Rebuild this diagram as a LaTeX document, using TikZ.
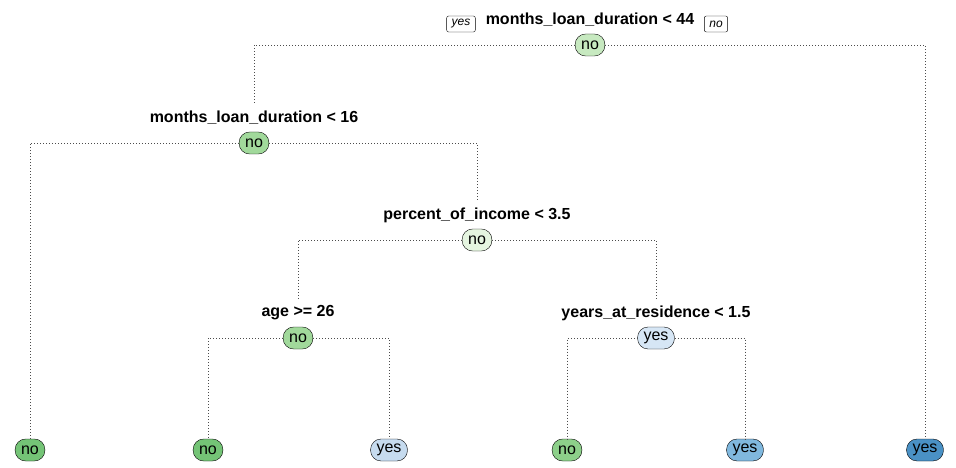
\documentclass[tikz,border=0pt]{standalone}
\usepackage{fontspec}
\setsansfont{Liberation Sans}
\usepackage{tikz}
\usetikzlibrary{positioning}

\definecolor{gA}{HTML}{C7E9C0}
\definecolor{gB}{HTML}{A1D99B}
\definecolor{gC}{HTML}{E5F5E0}
\definecolor{gD}{HTML}{74C476}
\definecolor{gE}{HTML}{8DD08A}
\definecolor{bA}{HTML}{D6E6F5}
\definecolor{bB}{HTML}{C6DBEF}
\definecolor{bC}{HTML}{80B8DE}
\definecolor{bD}{HTML}{4A91C5}

\tikzset{
  leafbox/.style={draw=black, rounded corners=10.5pt, minimum height=22pt, inner xsep=6pt, inner ysep=2pt,
    font=\sffamily\fontsize{16}{17}\selectfont},
  splitlab/.style={font=\sffamily\bfseries\fontsize{16}{18}\selectfont, inner sep=1pt},
  tagbox/.style={draw=black, rounded corners=2pt, inner xsep=5pt, inner ysep=2pt, minimum height=16pt,
    font=\sffamily\itshape\fontsize{12}{14}\selectfont},
  link/.style={color=black!70, line width=0.8pt, dash pattern=on 0.8pt off 2.2pt}
}

\begin{document}
\begin{tikzpicture}[x=1pt, y=-1pt]
\useasboundingbox (0,0) rectangle (956,468);

% splits
\node[splitlab] (r-lab) at (590,20) {months\_loan\_duration < 44};
\node[leafbox, fill=gA] (r) at (590,45) {no};
\node[tagbox] (t-yes) at (461,24) {yes};
\node[tagbox] (t-no) at (716,24) {no};

\node[splitlab] (a-lab) at (254,118) {months\_loan\_duration < 16};
\node[leafbox, fill=gB] (a) at (254,143) {no};

\node[splitlab] (b-lab) at (477,215) {percent\_of\_income < 3.5};
\node[leafbox, fill=gC] (b) at (477,240) {no};

\node[splitlab] (c-lab) at (298,313) {age >= 26};
\node[leafbox, fill=gB] (c) at (298,338) {no};

\node[splitlab] (d-lab) at (656,313) {years\_at\_residence < 1.5};
\node[leafbox, fill=bA] (d) at (656,338) {yes};

% leaves
\node[leafbox, fill=gD] (l1) at (30,450) {no};
\node[leafbox, fill=gD] (l2) at (208,450) {no};
\node[leafbox, fill=bB] (l3) at (389,450) {yes};
\node[leafbox, fill=gE] (l4) at (567,450) {no};
\node[leafbox, fill=bC] (l5) at (745,450) {yes};
\node[leafbox, fill=bD] (l6) at (925,450) {yes};

% branches
\draw[link] (r.west) -| ([yshift=6pt]a-lab.north);
\draw[link] (r.east) -| (l6.north);
\draw[link] (a.west) -| (l1.north);
\draw[link] (a.east) -| ([yshift=6pt]b-lab.north);
\draw[link] (b.west) -| ([yshift=6pt]c-lab.north);
\draw[link] (b.east) -| ([yshift=6pt]d-lab.north);
\draw[link] (c.west) -| (l2.north);
\draw[link] (c.east) -| (l3.north);
\draw[link] (d.west) -| (l4.north);
\draw[link] (d.east) -| (l5.north);
\end{tikzpicture}
\end{document}
